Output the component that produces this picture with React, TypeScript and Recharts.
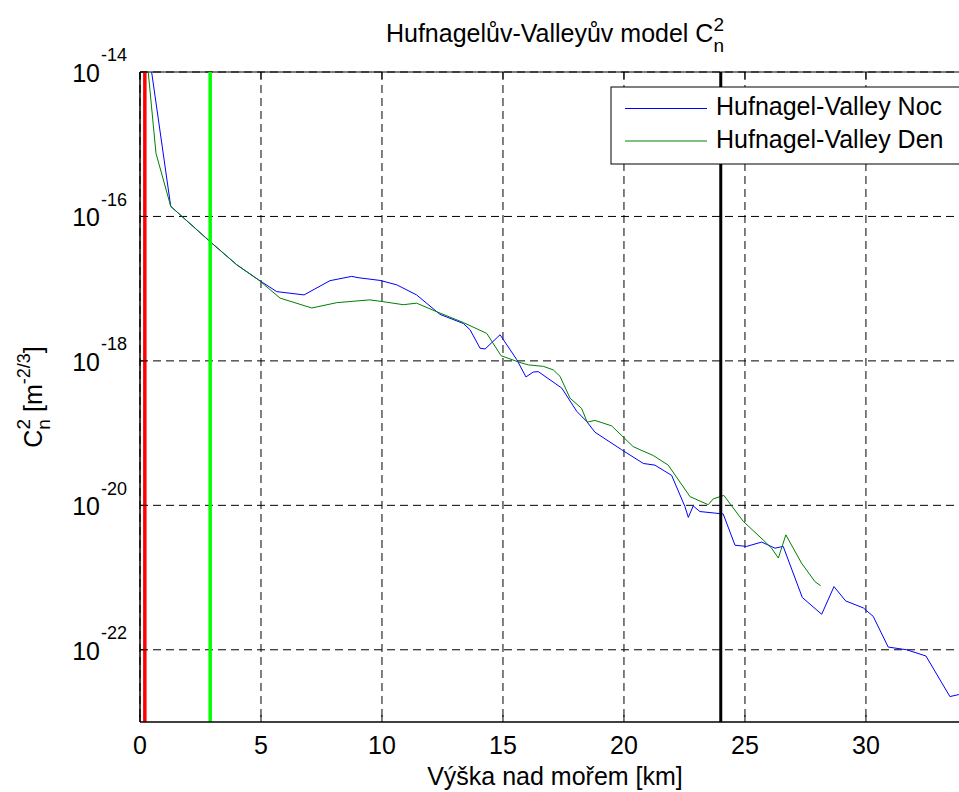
import React from "react";
import { LineChart, Line, XAxis, YAxis, CartesianGrid, ReferenceLine } from "recharts";

/* ── Hufnagel-Valley profile (altitude km, Cn² m^-2/3) ── */
const nightKm = [
  0.2, 1.27, 2.89, 4.0, 4.89, 5.65, 6.78, 7.85, 8.75, 9.01, 9.92, 10.61, 11.43, 12.4, 13.36, 13.64,
  14.05, 14.26, 14.88, 15.57, 15.95, 16.25, 16.46, 17.43, 18.05, 18.46, 18.8, 19.9, 20.8, 21.28,
  21.97, 22.52, 22.66, 22.86, 23.14, 24.1, 24.59, 25.07, 25.69, 26.24, 26.58, 27.37, 28.17, 28.68,
  29.16, 29.89, 30.3, 30.92, 31.68, 32.48, 33.47, 33.84, 34.3,
];
const nightCn2 = [
  4.6e-14, 1.38e-16, 4.5e-17, 2.14e-17, 1.33e-17, 9.1e-18, 8.2e-18, 1.29e-17, 1.48e-17, 1.42e-17,
  1.3e-17, 1.13e-17, 8.2e-18, 4.4e-18, 3.3e-18, 2.7e-18, 1.5e-18, 1.46e-18, 2.3e-18, 1.04e-18,
  6.0e-19, 7.0e-19, 7.1e-19, 4.2e-19, 2.0e-19, 1.45e-19, 1.03e-19, 5.9e-20, 3.8e-20, 3.6e-20,
  2.6e-20, 9.6e-21, 6.8e-21, 9.8e-21, 8.2e-21, 7.6e-21, 2.8e-21, 2.7e-21, 3.1e-21, 2.55e-21,
  2.7e-21, 5.3e-22, 3.1e-22, 7.5e-22, 4.75e-22, 3.8e-22, 2.9e-22, 1.09e-22, 1.0e-22, 8.2e-23,
  2.25e-23, 2.4e-23, 2.6e-23,
];
const dayKm = [
  0.2, 0.66, 1.27, 2.89, 4.0, 4.89, 5.79, 7.1, 8.13, 9.5, 10.19, 10.88, 11.43, 12.26, 13.36, 14.33,
  14.92, 15.7, 16.05, 16.67, 17.08, 17.36, 17.77, 18.25, 18.48, 18.8, 19.49, 20.38, 20.66, 21.21,
  21.83, 22.73, 23.48, 23.69, 24.13, 24.93, 25.76, 26.1, 26.38, 26.69, 27.34, 27.89, 28.13,
];
const dayCn2 = [
  3.1e-14, 7.5e-16, 1.38e-16, 4.5e-17, 2.14e-17, 1.33e-17, 7.4e-18, 5.4e-18, 6.4e-18, 7.0e-18,
  6.5e-18, 6.0e-18, 6.3e-18, 4.8e-18, 3.4e-18, 2.4e-18, 1.18e-18, 9.5e-19, 8.8e-19, 8.4e-19,
  7.5e-19, 6.1e-19, 3.05e-19, 2.2e-19, 1.42e-19, 1.5e-19, 1.26e-19, 6.5e-20, 5.9e-20, 4.9e-20,
  3.6e-20, 1.32e-20, 1.02e-20, 1.23e-20, 1.37e-20, 6.0e-21, 3.3e-21, 2.55e-21, 1.86e-21, 3.9e-21,
  1.58e-21, 8.8e-22, 7.7e-22,
];

const seriesNames = ["Hufnagel-Valley Noc", "Hufnagel-Valley Den"];
const seriesColors = ["#0000ff", "#008000"];

const markerKm = [0.2, 2.9, 24];
const markerColors = ["#ff0000", "#00ff00", "#000000"];

const xTicks = [0, 5, 10, 15, 20, 25, 30];
const yTicks = [1e-14, 1e-16, 1e-18, 1e-20, 1e-22];
const xDomain = [0, 34.3];
const yDomain = [1e-23, 1e-14];

const nightData = nightKm.map((km, i) => ({ km, cn2: nightCn2[i] }));
const dayData = dayKm.map((km, i) => ({ km, cn2: dayCn2[i] }));

const FONT = "'Liberation Sans', Arial, Helvetica, sans-serif";
const W = 990;
const H = 792;
const PLOT_LEFT = 140;
const PLOT_TOP = 72;
const PLOT_BOTTOM = 722;
const PLOT_RIGHT = 970;
const CX = (PLOT_LEFT + PLOT_RIGHT) / 2;

/* eslint-disable @typescript-eslint/no-explicit-any */
function XTick({ x, y, payload }: any) {
  return (
    <g>
      <line x1={x} x2={x} y1={y} y2={y - 7} stroke="#000" />
      <line x1={x} x2={x} y1={PLOT_TOP} y2={PLOT_TOP + 7} stroke="#000" />
      <text x={x} y={y + 32} textAnchor="middle" fontSize={25} fontFamily={FONT} fill="#000">
        {payload.value}
      </text>
    </g>
  );
}

function YTick({ x, y, payload }: any) {
  const exp = Math.round(Math.log10(payload.value));
  return (
    <g>
      <line x1={x} x2={x + 7} y1={y} y2={y} stroke="#000" />
      <text x={x - 40} y={y + 10} textAnchor="end" fontSize={25} fontFamily={FONT} fill="#000">
        10
      </text>
      <text x={x - 39} y={y - 10.7} textAnchor="start" fontSize={18} fontFamily={FONT} fill="#000">
        {String(exp)}
      </text>
    </g>
  );
}

export default function App() {
  return (
    <div
      style={{
        position: "fixed",
        left: 0,
        top: 0,
        width: 959,
        height: 792,
        overflow: "hidden",
        background: "#fff",
      }}
    >
      <LineChart width={W} height={H} margin={{ top: PLOT_TOP, right: W - PLOT_RIGHT, bottom: 0, left: 0 }}>
        <CartesianGrid stroke="#000" strokeDasharray="8 5" horizontalValues={yTicks} verticalValues={xTicks} />
        <XAxis
          dataKey="km"
          type="number"
          domain={xDomain}
          ticks={xTicks}
          interval={0}
          allowDataOverflow
          height={H - PLOT_BOTTOM}
          tickSize={0}
          tickMargin={0}
          tickLine={false}
          axisLine={{ stroke: "#000", strokeWidth: 1.5 }}
          tick={<XTick />}
        />
        <YAxis
          dataKey="cn2"
          type="number"
          scale="log"
          domain={yDomain}
          ticks={yTicks}
          interval={0}
          allowDataOverflow
          width={PLOT_LEFT}
          tickSize={0}
          tickMargin={0}
          tickLine={false}
          axisLine={{ stroke: "#000", strokeWidth: 1.5 }}
          tick={<YTick />}
        />
        <ReferenceLine y={yDomain[1]} stroke="#000" strokeWidth={1} />
        <Line
          data={nightData}
          dataKey="cn2"
          name={seriesNames[0]}
          type="linear"
          stroke={seriesColors[0]}
          strokeWidth={1}
          dot={false}
          isAnimationActive={false}
        />
        <Line
          data={dayData}
          dataKey="cn2"
          name={seriesNames[1]}
          type="linear"
          stroke={seriesColors[1]}
          strokeWidth={1}
          dot={false}
          isAnimationActive={false}
        />
        {markerKm.map((km, i) => (
          <ReferenceLine key={km} x={km} stroke={markerColors[i]} strokeWidth={i === 2 ? 3 : 3.5} />
        ))}
      </LineChart>

      <svg
        width={959}
        height={792}
        style={{ position: "absolute", left: 0, top: 0, pointerEvents: "none" }}
        fontFamily={FONT}
      >
        {/* title */}
        <text x={CX} y={41.7} textAnchor="middle" fontSize={25} fill="#000">
          Hufnagelův-Valleyův model C
          <tspan dy={10} fontSize={19}>n</tspan>
          <tspan dx={-10.5} dy={-21} fontSize={19}>2</tspan>
        </text>

        {/* x label */}
        <text x={CX} y={785} textAnchor="middle" fontSize={25} fill="#000">
          Výška nad mořem [km]
        </text>

        {/* y label */}
        <text transform={`translate(42, ${(PLOT_TOP + PLOT_BOTTOM) / 2}) rotate(-90)`} textAnchor="middle" fontSize={25} fill="#000">
          C
          <tspan dy={8} fontSize={19}>n</tspan>
          <tspan dx={-10.5} dy={-20} fontSize={19}>2</tspan>
          <tspan dy={12} fontSize={25}>{" [m"}</tspan>
          <tspan dy={-12} fontSize={18}>-2/3</tspan>
          <tspan dy={12} fontSize={25}>]</tspan>
        </text>

        {/* legend */}
        <rect x={611} y={87} width={370} height={77} fill="#fff" stroke="#000" strokeWidth={1} />
        {seriesNames.map((name, i) => (
          <g key={name}>
            <line x1={625} x2={707} y1={108.5 + i * 32.5} y2={108.5 + i * 32.5} stroke={seriesColors[i]} strokeWidth={1} />
            <text x={716} y={114.5 + i * 33.5} fontSize={25} fill="#000">
              {name}
            </text>
          </g>
        ))}
      </svg>
    </div>
  );
}
